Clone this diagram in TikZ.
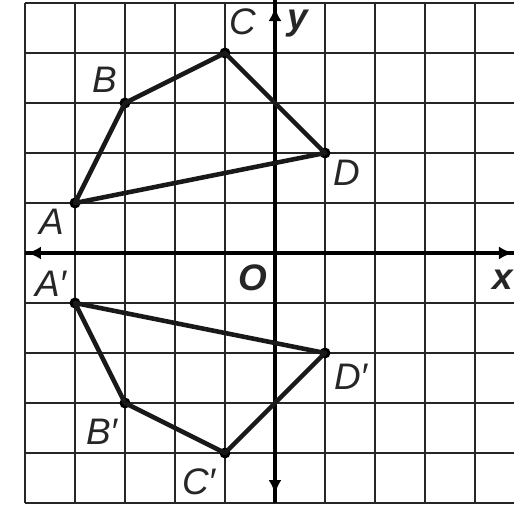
\documentclass[tikz,border=0pt]{standalone}
\usepackage{fontspec}
\setmainfont{Liberation Sans}
\usetikzlibrary{arrows.meta}
\tikzset{
  gridline/.style={draw=black!85, line width=1.6pt},
  axis/.style={draw=black, line width=2.4pt},
  edge/.style={draw=black!90, line width=2.6pt, line join=round},
  vdot/.style={circle, fill=black, inner sep=0pt, minimum size=0.22cm},
  lbl/.style={font=\fontsize{21}{23}\selectfont\itshape, inner sep=0pt, text=black!85},
  axlbl/.style={font=\fontsize{21}{23}\selectfont\bfseries\itshape, inner sep=0pt, text=black!85},
  tip/.style={draw=black, line width=2.4pt, -{Latex[length=0.28cm,width=0.26cm]}}
}
\begin{document}
\begin{tikzpicture}
\useasboundingbox[fill=white] (-5.5,-5.44) rectangle (4.78,5.06);
% grid
\foreach \x in {-5,...,4} \draw[gridline] (\x,-5) -- (\x,5);
\foreach \y in {-5,...,5} \draw[gridline] (-5,\y) -- (4.78,\y);
% axes
\draw[axis] (-5,0) -- (4.78,0);
\draw[axis] (0,-5) -- (0,5.06);
\draw[tip] (-4.6,0) -- (-4.96,0);
\draw[tip] (4.4,0) -- (4.76,0);
\draw[tip] (0,4.55) -- (0,4.92);
\draw[tip] (0,-4.45) -- (0,-4.82);
% vertices
\node[vdot] (A) at (-4,1) {};
\node[vdot] (B) at (-3,3) {};
\node[vdot] (C) at (-1,4) {};
\node[vdot] (D) at (1,2) {};
\node[vdot] (A1) at (-4,-1) {};
\node[vdot] (B1) at (-3,-3) {};
\node[vdot] (C1) at (-1,-4) {};
\node[vdot] (D1) at (1,-2) {};
\draw[edge] (A.center) -- (B.center) -- (C.center) -- (D.center) -- cycle;
\draw[edge] (A1.center) -- (B1.center) -- (C1.center) -- (D1.center) -- cycle;
% labels
\node[lbl] (lA) at (-4.46,0.62) {A};
\node[lbl] (lB) at (-3.4,3.46) {B};
\node[lbl] (lC) at (-0.64,4.62) {C};
\node[lbl] (lD) at (1.44,1.6) {D};
\node[lbl] (lA1) at (-4.48,-0.62) {A′};
\node[lbl] (lB1) at (-3.46,-3.58) {B′};
\node[lbl] (lC1) at (-1.52,-4.58) {C′};
\node[lbl] (lD1) at (1.52,-2.48) {D′};
\node[axlbl] (ly) at (0.46,4.58) {y};
\node[axlbl] (lO) at (-0.44,-0.5) {O};
\node[axlbl] (lx) at (4.56,-0.54) {x};
\end{tikzpicture}
\end{document}
